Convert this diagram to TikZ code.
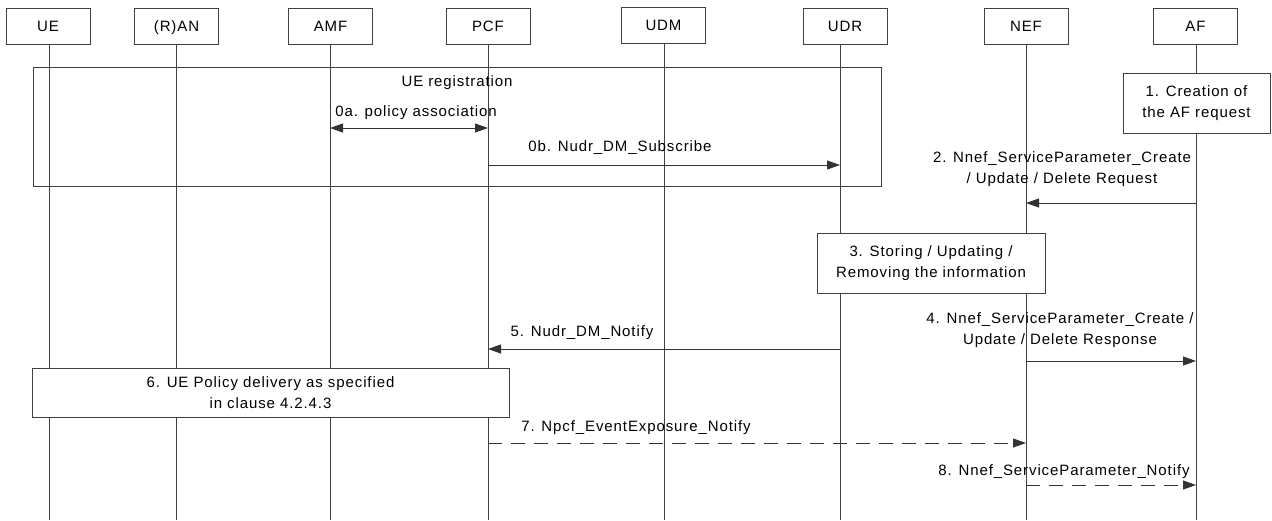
\documentclass[tikz,border=0pt]{standalone}
\usepackage{fontspec}
\setmainfont{Liberation Sans}[LetterSpace=6]
\usetikzlibrary{arrows.meta}
\begin{document}
\begin{tikzpicture}[x=1pt,y=-1pt,line width=0.9pt,
  every node/.style={font=\fontsize{15}{21}\selectfont,inner sep=0pt,align=center},
  actor/.style={draw=black!75,fill=white,minimum width=84pt,minimum height=36pt,text height=11pt,text depth=0pt},
  life/.style={draw=black!75},
  frame/.style={draw=black!75},
  stepbox/.style={draw=black!75,fill=white},
  msg/.style={draw=black!80,-{Triangle[length=13pt,width=9pt]}},
  dmsg/.style={msg,dash pattern=on 14pt off 9pt}]
\useasboundingbox (0,0) rectangle (1272,520);
% lifeline positions
\coordinate (ueX) at (49,0);
\coordinate (ranX) at (176,0);
\coordinate (amfX) at (330,0);
\coordinate (pcfX) at (488,0);
\coordinate (udmX) at (664,0);
\coordinate (udrX) at (840,0);
\coordinate (nefX) at (1026,0);
\coordinate (afX) at (1196,0);
% headers
\node[actor] (ue) at (48,26) {UE};
\node[actor] (ran) at (176.5,26) {(R)AN};
\node[actor] (amf) at (330.5,26) {AMF};
\node[actor] (pcf) at (488,26) {PCF};
\node[actor] (udm) at (663.5,25) {UDM};
\node[actor] (udr) at (845,26) {UDR};
\node[actor] (nef) at (1026,26) {NEF};
\node[actor] (af) at (1195.5,26) {AF};
% lifelines
\foreach \n in {ue,ran,amf,pcf,udm,udr,nef,af}{
  \coordinate (\n End) at (\n X |- 0,520);
  \draw[life] (\n.south -| \n X) -- (\n End);
}
% UE registration frame
\node[frame,minimum width=848pt,minimum height=119pt,anchor=north west] (reg) at (33,67) {};
\node (regl) at (457,83) {UE registration};
% 0a
\node (l0a) at (416,113) {0a. policy association};
\draw[draw=black!80,{Triangle[length=13pt,width=9pt]}-{Triangle[length=13pt,width=9pt]}] (amfX |- 0,128) -- (pcfX |- 0,128);
% 0b
\node (l0b) at (620,148) {0b. Nudr\_DM\_Subscribe};
\draw[msg] (pcfX |- 0,165) -- (udrX |- 0,165);
% 1
\node[stepbox,minimum width=147pt,minimum height=60pt] (s1) at (1196.5,103) {1. Creation of\\the AF request};
% 2
\node (l2) at (1062,169) {2. Nnef\_ServiceParameter\_Create\\/ Update / Delete Request};
\draw[msg] (afX |- 0,203) -- (nefX |- 0,203);
% 3
\node[stepbox,minimum width=228pt,minimum height=60pt] (s3) at (931,263) {3. Storing / Updating /\\Removing the information};
% 4
\node (l4) at (1060,330) {4. Nnef\_ServiceParameter\_Create /\\Update / Delete Response};
\draw[msg] (nefX |- 0,361) -- (afX |- 0,361);
% 5
\node (l5) at (582,333) {5. Nudr\_DM\_Notify};
\draw[msg] (udrX |- 0,349) -- (pcfX |- 0,349);
% 6
\node[stepbox,minimum width=477pt,minimum height=49pt] (s6) at (270.5,392.5) {6. UE Policy delivery as specified\\in clause 4.2.4.3};
% 7
\node (l7) at (636,428) {7. Npcf\_EventExposure\_Notify};
\draw[dmsg] (pcfX |- 0,443) -- (nefX |- 0,443);
% 8
\node (l8) at (1064,472) {8. Nnef\_ServiceParameter\_Notify};
\draw[dmsg] (nefX |- 0,485) -- (afX |- 0,485);
\end{tikzpicture}
\end{document}
